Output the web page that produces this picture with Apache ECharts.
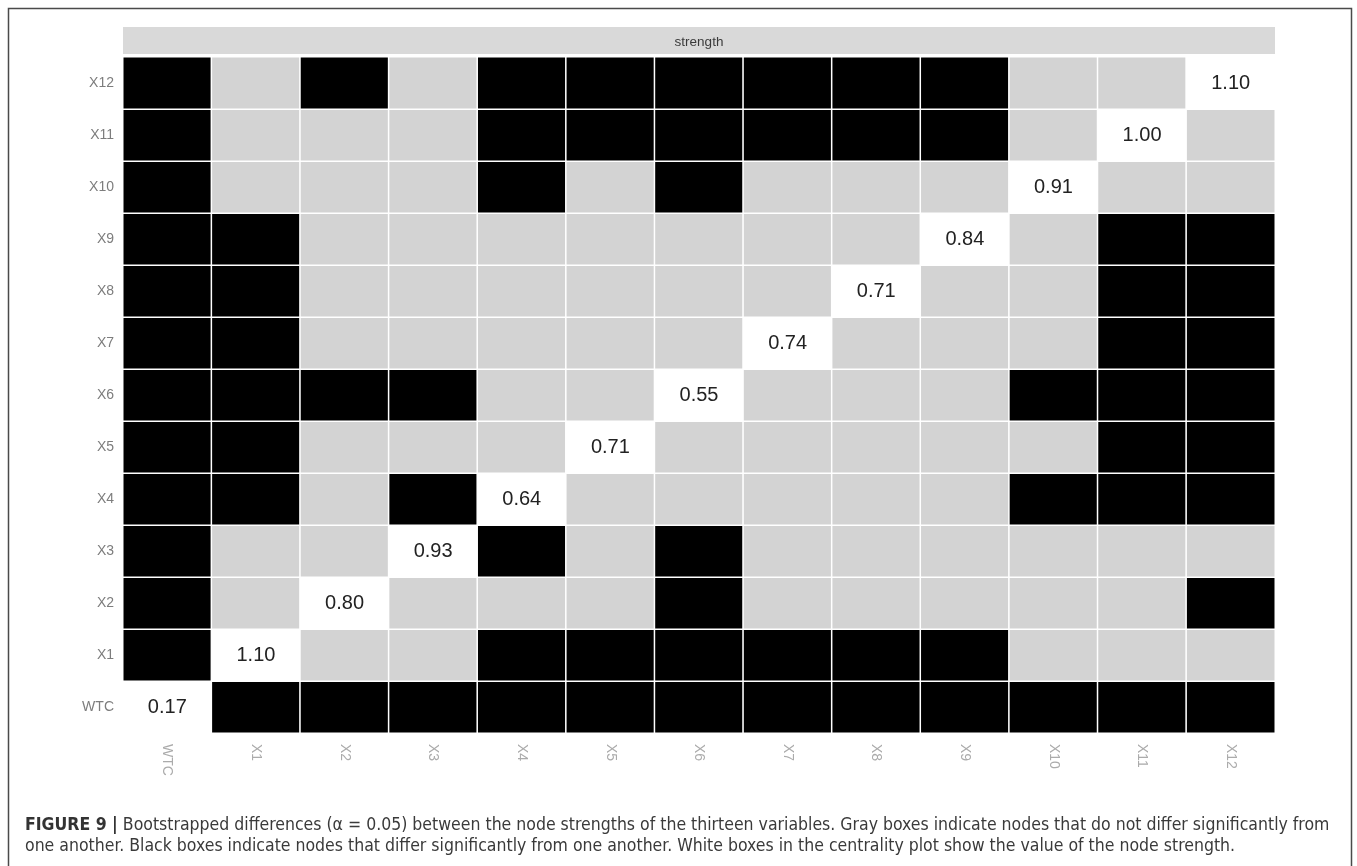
<!DOCTYPE html>
<html>
<head>
<meta charset="utf-8">
<title>Bootstrapped difference test: node strength</title>
<script src="https://cdn.jsdelivr.net/npm/echarts@6/dist/echarts.min.js"></script>
<style>
  html, body { margin: 0; padding: 0; background: #ffffff; }
  #chart { width: 1357px; height: 866px; }
</style>
</head>
<body>
<div id="chart"></div>
<script>
// Node names, bottom-to-top on the y axis and left-to-right on the x axis
const nodes = ['WTC', 'X1', 'X2', 'X3', 'X4', 'X5', 'X6', 'X7', 'X8', 'X9', 'X10', 'X11', 'X12'];

// Node strength (shown on the diagonal)
const strength = [0.17, 1.10, 0.80, 0.93, 0.64, 0.71, 0.55, 0.74, 0.71, 0.84, 0.91, 1.00, 1.10];

// Pairwise bootstrapped difference tests: 1 = significant, 0 = not significant
// rows follow `nodes`, columns follow `nodes`; diagonal entries are unused
const sigWTC = [0, 1, 1, 1, 1, 1, 1, 1, 1, 1, 1, 1, 1];
const sigX1  = [1, 0, 0, 0, 1, 1, 1, 1, 1, 1, 0, 0, 0];
const sigX2  = [1, 0, 0, 0, 0, 0, 1, 0, 0, 0, 0, 0, 1];
const sigX3  = [1, 0, 0, 0, 1, 0, 1, 0, 0, 0, 0, 0, 0];
const sigX4  = [1, 1, 0, 1, 0, 0, 0, 0, 0, 0, 1, 1, 1];
const sigX5  = [1, 1, 0, 0, 0, 0, 0, 0, 0, 0, 0, 1, 1];
const sigX6  = [1, 1, 1, 1, 0, 0, 0, 0, 0, 0, 1, 1, 1];
const sigX7  = [1, 1, 0, 0, 0, 0, 0, 0, 0, 0, 0, 1, 1];
const sigX8  = [1, 1, 0, 0, 0, 0, 0, 0, 0, 0, 0, 1, 1];
const sigX9  = [1, 1, 0, 0, 0, 0, 0, 0, 0, 0, 0, 1, 1];
const sigX10 = [1, 0, 0, 0, 1, 0, 1, 0, 0, 0, 0, 0, 0];
const sigX11 = [1, 0, 0, 0, 1, 1, 1, 1, 1, 1, 0, 0, 0];
const sigX12 = [1, 0, 1, 0, 1, 1, 1, 1, 1, 1, 0, 0, 0];
const sigRows = [sigWTC, sigX1, sigX2, sigX3, sigX4, sigX5, sigX6, sigX7, sigX8, sigX9, sigX10, sigX11, sigX12];

const panelTitle = 'strength';
const captionHead = 'FIGURE 9 |';
const captionLine1 = ' Bootstrapped differences (\u03b1 = 0.05) between the node strengths of the thirteen variables. Gray boxes indicate nodes that do not differ significantly from';
const captionLine2 = 'one another. Black boxes indicate nodes that differ significantly from one another. White boxes in the centrality plot show the value of the node strength.';

// cell code: 0 = gray (no difference), 1 = black (differs), 2 = white (diagonal, strength)
const cells = [];
sigRows.forEach(function (row, yi) {
  row.forEach(function (s, xi) {
    const code = xi === yi ? 2 : s;
    cells.push([xi, yi, code, strength[xi]]);
  });
});

const gridLeft = 123, gridTop = 57, gridRight = 82, gridBottom = 133;
const W = 1357;
const sans = 'Liberation Sans, Arial, sans-serif';
const captionFont = 'DejaVu Sans Condensed, Liberation Sans Narrow, Arial, sans-serif';

const chart = echarts.init(document.getElementById('chart'), null, { renderer: 'canvas' });
chart.setOption({
  backgroundColor: '#ffffff',
  animation: false,
  grid: { left: gridLeft, top: gridTop, right: gridRight, bottom: gridBottom },
  xAxis: {
    type: 'category',
    data: nodes,
    axisLine: { show: false },
    axisTick: { show: false },
    splitLine: { show: false },
    axisLabel: {
      rotate: -90,
      margin: 11,
      color: '#ababab',
      fontSize: 14,
      fontFamily: sans
    }
  },
  yAxis: {
    type: 'category',
    data: nodes,
    axisLine: { show: false },
    axisTick: { show: false },
    splitLine: { show: false },
    axisLabel: {
      margin: 9,
      color: '#7d7d7d',
      fontSize: 14,
      fontFamily: sans
    }
  },
  visualMap: {
    show: false,
    type: 'piecewise',
    dimension: 2,
    pieces: [
      { value: 0, color: '#d3d3d3' },
      { value: 1, color: '#000000' },
      { value: 2, color: '#ffffff' }
    ]
  },
  series: [{
    type: 'heatmap',
    data: cells,
    itemStyle: { borderColor: '#ffffff', borderWidth: 1.5 },
    emphasis: { disabled: true },
    label: {
      show: true,
      color: '#222222',
      fontSize: 20,
      fontFamily: sans,
      formatter: function (p) {
        return p.data[2] === 2 ? p.data[3].toFixed(2) : '';
      }
    }
  }],
  graphic: [
    // figure frame
    {
      type: 'rect',
      shape: { x: 8.5, y: 8.5, width: 1343, height: 880 },
      style: { fill: null, stroke: '#4a4a4a', lineWidth: 1.5 },
      silent: true
    },
    // facet strip
    {
      type: 'rect',
      shape: { x: gridLeft, y: 27, width: W - gridLeft - gridRight, height: 27 },
      style: { fill: '#d9d9d9' },
      silent: true
    },
    {
      type: 'text',
      x: gridLeft + (W - gridLeft - gridRight) / 2,
      y: 42,
      style: {
        text: panelTitle,
        fill: '#3a3a3a',
        fontSize: 13.5,
        fontFamily: sans,
        align: 'center',
        verticalAlign: 'middle'
      },
      silent: true
    },
    // caption
    {
      type: 'text',
      x: 25,
      y: 825,
      style: {
        text: '{b|' + captionHead + '}{r|' + captionLine1 + '}',
        verticalAlign: 'middle',
        rich: {
          b: { fontSize: 17.5, fontWeight: 'bold', fill: '#333333', fontFamily: captionFont },
          r: { fontSize: 17.5, fill: '#3a3a3a', fontFamily: captionFont }
        }
      },
      silent: true
    },
    {
      type: 'text',
      x: 25,
      y: 846,
      style: {
        text: captionLine2,
        verticalAlign: 'middle',
        fontSize: 17.5,
        fill: '#3a3a3a',
        fontFamily: captionFont
      },
      silent: true
    }
  ]
});
</script>
</body>
</html>
